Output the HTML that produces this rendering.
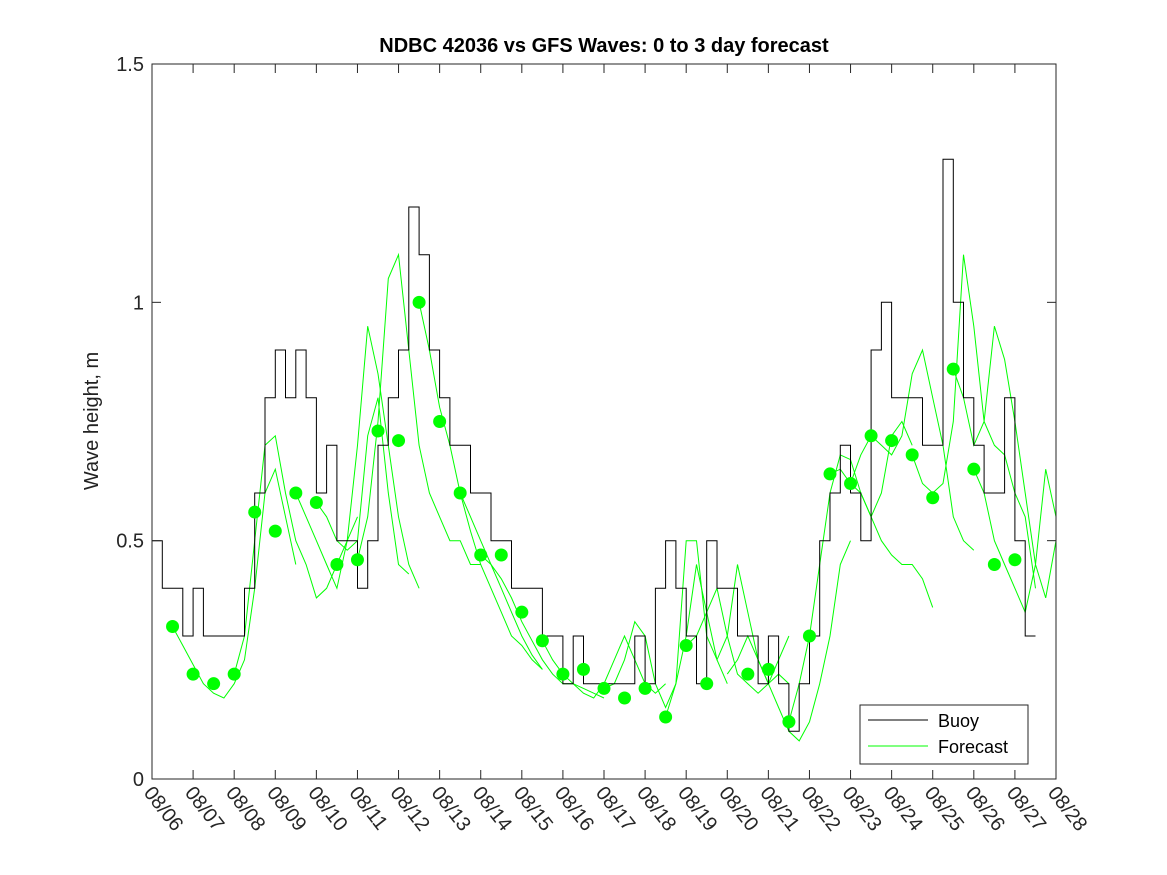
<!DOCTYPE html>
<html><head><meta charset="utf-8"><style>
body{margin:0;background:#fff;}
svg{display:block;font-family:"Liberation Sans",sans-serif;}
</style></head><body>
<svg id="chart" width="1167" height="875">
<defs><clipPath id="clip"><rect x="152" y="64" width="904" height="715"/></clipPath></defs>
<rect width="1167" height="875" fill="#fff"/>
<text x="604" y="52" text-anchor="middle" font-size="20" font-weight="bold">NDBC 42036 vs GFS Waves: 0 to 3 day forecast</text>
<text transform="translate(98,421) rotate(-90)" text-anchor="middle" font-size="20" fill="#222">Wave height, m</text>
<g id="plot"></g>
</svg>
<script>
const dayStart=6, dayEnd=28;
const yTicks=[0,0.5,1,1.5];
const xTickLabels=["08/06","08/07","08/08","08/09","08/10","08/11","08/12","08/13","08/14","08/15","08/16","08/17","08/18","08/19","08/20","08/21","08/22","08/23","08/24","08/25","08/26","08/27","08/28"];
const buoyStart=6, buoyStep=0.25;
const buoyValues=[0.5,0.4,0.4,0.3, 0.4,0.3,0.3,0.3, 0.3,0.4,0.6,0.8, 0.9,0.8,0.9,0.8, 0.6,0.7,0.5,0.5, 0.4,0.5,0.7,0.8, 0.9,1.2,1.1,0.9, 0.8,0.7,0.7,0.6, 0.6,0.5,0.5,0.4, 0.4,0.4,0.3,0.3, 0.2,0.3,0.2,0.2, 0.2,0.2,0.2,0.3, 0.2,0.4,0.5,0.4, 0.3,0.2,0.5,0.4, 0.4,0.3,0.3,0.2, 0.3,0.2,0.1,0.2, 0.3,0.5,0.6,0.7, 0.6,0.5,0.9,1.0, 0.8,0.8,0.8,0.7, 0.7,1.3,1.0,0.8, 0.7,0.6,0.6,0.8, 0.5,0.3];
const dotDays=[6.5,7,7.5,8,8.5,9,9.5,10,10.5,11,11.5,12,12.5,13,13.5,14,14.5,15,15.5,16,16.5,17,17.5,18,18.5,19,19.5,20.5,21,21.5,22,22.5,23,23.5,24,24.5,25,25.5,26,26.5,27];
const dotValues=[0.32,0.22,0.20,0.22,0.56,0.52,0.60,0.58,0.45,0.46,0.73,0.71,1.00,0.75,0.60,0.47,0.47,0.35,0.29,0.22,0.23,0.19,0.17,0.19,0.13,0.28,0.20,0.22,0.23,0.12,0.30,0.64,0.62,0.72,0.71,0.68,0.59,0.86,0.65,0.45,0.46];
const fcStarts=[6.5,8,9.5,10,11,12.5,13.5,14,15.5,17,18.5,19,20,21.5,22.5,23,24.5,25.5,26];
const fcStep=0.25;
const fcRuns=[
[0.32,0.28,0.24,0.20,0.18,0.17,0.2,0.25,0.4,0.6,0.65,0.55,0.45],
[0.22,0.3,0.5,0.7,0.72,0.6,0.5,0.45,0.38,0.4,0.45,0.5,0.55],
[0.6,0.55,0.5,0.45,0.4,0.5,0.7,0.95,0.85,0.7,0.55,0.45,0.4],
[0.58,0.55,0.5,0.48,0.5,0.72,0.8,0.6,0.45,0.43],
[0.46,0.55,0.75,1.05,1.1,0.9,0.7,0.6,0.55,0.5,0.5,0.45,0.45],
[1.0,0.9,0.78,0.7,0.6,0.52,0.45,0.4,0.35,0.3,0.28,0.25,0.23],
[0.6,0.55,0.5,0.45,0.4,0.35,0.3,0.26,0.23],
[0.47,0.45,0.42,0.38,0.33,0.29,0.25,0.22,0.2,0.2,0.19,0.18,0.17],
[0.29,0.25,0.22,0.2,0.18,0.17,0.2,0.25,0.3,0.25,0.2,0.18,0.2],
[0.19,0.2,0.25,0.33,0.3,0.2,0.15,0.2,0.3,0.45,0.35,0.25,0.2],
[0.13,0.2,0.5,0.5,0.3,0.25,0.3,0.45,0.35,0.25,0.2,0.22,0.2],
[0.28,0.3,0.35,0.4,0.3,0.22,0.2,0.18,0.2,0.25,0.3],
[0.22,0.25,0.3,0.25,0.2,0.15,0.1,0.08,0.12,0.2,0.3,0.45,0.5],
[0.12,0.2,0.3,0.45,0.6,0.68,0.67,0.6,0.55,0.6,0.72,0.75,0.7],
[0.64,0.65,0.62,0.6,0.55,0.5,0.47,0.45,0.45,0.42,0.36],
[0.62,0.68,0.72,0.7,0.68,0.72,0.85,0.9,0.8,0.7,0.55,0.5,0.48],
[0.68,0.62,0.6,0.62,0.75,1.1,0.95,0.75,0.7,0.68,0.6,0.55,0.4],
[0.86,0.8,0.7,0.75,0.95,0.88,0.75,0.6,0.45,0.38,0.5,0.7,0.75],
[0.65,0.6,0.5,0.45,0.4,0.35,0.45,0.65,0.55,0.45,0.35,0.3]
];
const L=152,R=1056,T=64,B=779,yMax=1.5;
const xs=d=>L+(d-dayStart)*(R-L)/(dayEnd-dayStart);
const ys=v=>B-v*(B-T)/yMax;
const NS="http://www.w3.org/2000/svg";
const g=document.getElementById('plot');
function mk(tag,attrs,parent){const e=document.createElementNS(NS,tag);for(const k in attrs)e.setAttribute(k,attrs[k]);(parent||g).appendChild(e);return e;}
const cg=mk('g',{'clip-path':'url(#clip)'});


fcRuns.forEach((run,i)=>{
  const p=run.map((v,j)=>xs(fcStarts[i]+j*fcStep).toFixed(1)+','+ys(v).toFixed(1)).join(' ');
  const e=mk('polyline',{points:p,fill:'none',stroke:'#00ff00','stroke-width':1},cg);
  
  
});
let pts=[];
buoyValues.forEach((v,i)=>{const x0=xs(buoyStart+i*buoyStep),x1=xs(buoyStart+(i+1)*buoyStep);pts.push(x0.toFixed(1)+','+ys(v).toFixed(1));pts.push(x1.toFixed(1)+','+ys(v).toFixed(1));});
const bl=mk('polyline',{points:pts.join(' '),fill:'none',stroke:'#000','stroke-width':1},cg);


dotDays.forEach((d,i)=>{
  const c=mk('circle',{cx:xs(d),cy:ys(dotValues[i]),r:6.5,fill:'#00ff00'});
  
  
});
const box=mk('rect',{x:L,y:T,width:R-L,height:B-T,fill:'none',stroke:'#262626','stroke-width':1});


yTicks.forEach(v=>{
  mk('line',{x1:L,x2:L+9,y1:ys(v),y2:ys(v),stroke:'#262626'});
  mk('line',{x1:R,x2:R-9,y1:ys(v),y2:ys(v),stroke:'#262626'});
  const t=mk('text',{x:L-8,y:ys(v)+7,'text-anchor':'end','font-size':20,fill:'#262626'});
  t.textContent=String(v);
  
  
});
xTickLabels.forEach((lab,i)=>{
  const x=xs(dayStart+i);
  mk('line',{x1:x,x2:x,y1:B,y2:B-9,stroke:'#262626'});
  mk('line',{x1:x,x2:x,y1:T,y2:T+9,stroke:'#262626'});
  const t=mk('text',{transform:`translate(${x-9},${B+14}) rotate(52)`,'font-size':20,fill:'#262626'});
  t.textContent=lab;
  
  
});
const lg=mk('rect',{x:860,y:705,width:168,height:59,fill:'#fff',stroke:'#262626'});


mk('line',{x1:868,x2:928,y1:720,y2:720,stroke:'#000'});
const t1=mk('text',{x:938,y:727,'font-size':18,fill:'#000'});t1.textContent='Buoy';


mk('line',{x1:868,x2:928,y1:746,y2:746,stroke:'#00ff00'});
const t2=mk('text',{x:938,y:753,'font-size':18,fill:'#000'});t2.textContent='Forecast';


</script>
</body></html>
